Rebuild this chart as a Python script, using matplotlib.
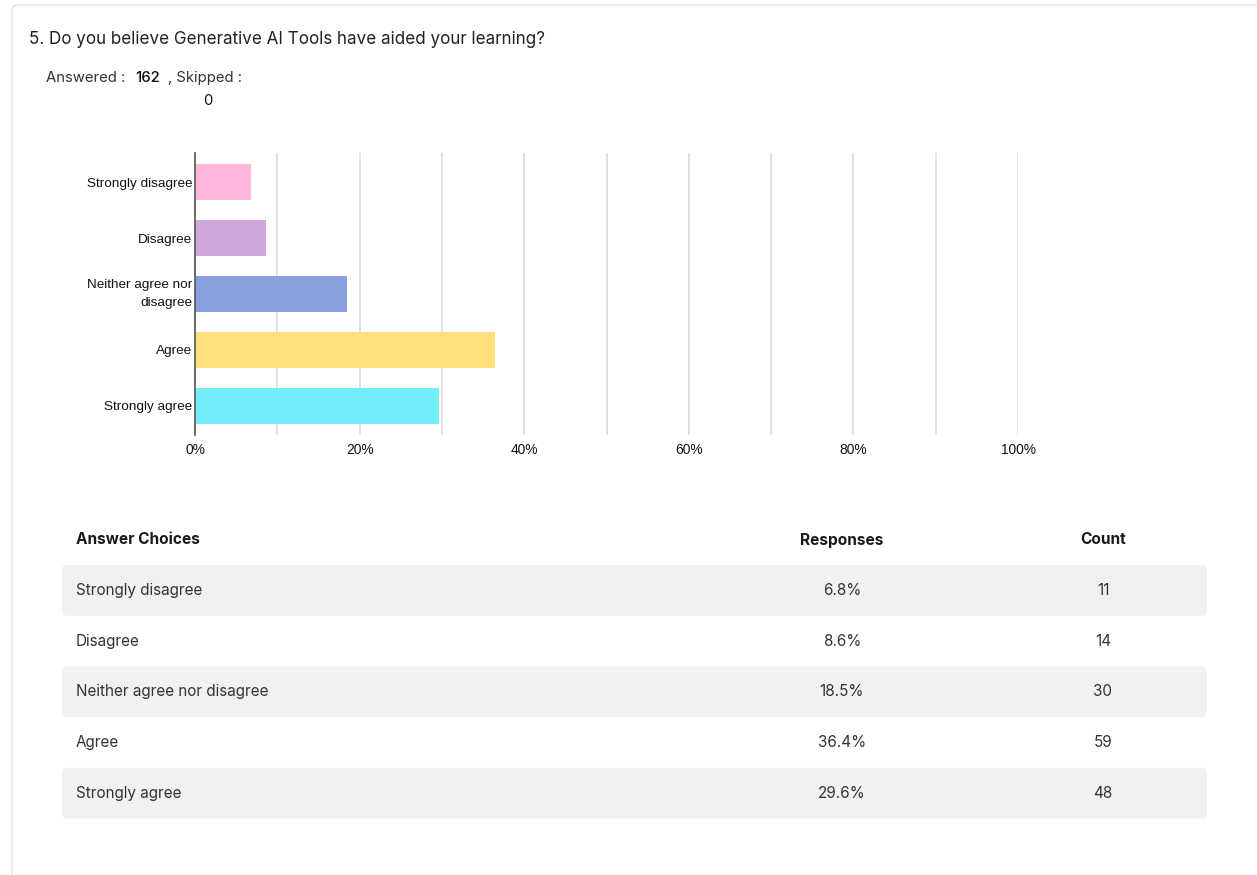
import matplotlib
matplotlib.use("Agg")
import matplotlib.pyplot as plt
from matplotlib.patches import FancyBboxPatch
from matplotlib.ticker import MultipleLocator, FuncFormatter

# ---- data ----
categories = ["Strongly disagree", "Disagree", "Neither agree nor disagree", "Agree", "Strongly agree"]
axis_labels = ["Strongly disagree", "Disagree", "Neither agree nor\ndisagree", "Agree", "Strongly agree"]
percentages = [6.8, 8.6, 18.5, 36.4, 29.6]
counts = [11, 14, 30, 59, 48]
bar_colors = ["#FFB7DB", "#CFA9DE", "#8A9FDE", "#FFE07A", "#74EDFB"]
x_ticks = [0, 20, 40, 60, 80, 100]
answered = 162
skipped = 0
title = "5. Do you believe Generative AI Tools have aided your learning?"

W, H = 1257, 875
fig = plt.figure(figsize=(W / 100, H / 100), dpi=100)
fig.patch.set_facecolor("white")

# overlay in pixel coordinates for page elements
bg = fig.add_axes([0, 0, 1, 1], zorder=0)
bg.set_xlim(0, W)
bg.set_ylim(H, 0)
bg.axis("off")

PAGE_FONT = ["Inter", "DejaVu Sans"]
CHART_FONT = ["Liberation Sans", "DejaVu Sans"]

# card border
card = FancyBboxPatch((12, 5), W + 20, H + 20, boxstyle="round,pad=0,rounding_size=6",
                      facecolor="white", edgecolor="#E2E2E2", linewidth=1.0)
bg.add_patch(card)

bg.text(29, 39, title, fontsize=12.25, color="#222222", va="center", ha="left", family=PAGE_FONT)
bg.text(46, 78, "Answered :  ", fontsize=10.7, color="#333333", va="center", ha="left", family=PAGE_FONT)
bg.text(135, 78, f"{answered}", fontsize=10.7, color="#111111", va="center", ha="left",
        family=PAGE_FONT, fontweight="medium")
bg.text(168, 78, ", Skipped :", fontsize=10.7, color="#333333", va="center", ha="left", family=PAGE_FONT)
bg.text(208, 101, f"{skipped}", fontsize=10.7, color="#111111", va="center", ha="center", family=PAGE_FONT)

# table
row_top0 = 565
row_h = 50.7
for i, (cat, pct, cnt) in enumerate(zip(categories, percentages, counts)):
    top = row_top0 + i * row_h
    if i % 2 == 0:
        bg.add_patch(FancyBboxPatch((62, top), 1145, row_h, boxstyle="round,pad=0,rounding_size=5",
                                    facecolor="#F1F1F1", edgecolor="none"))
    cy = top + row_h / 2
    bg.text(76, cy, cat, fontsize=11, color="#333333", va="center", ha="left", family=PAGE_FONT)
    bg.text(842, cy, f"{pct:.1f}%", fontsize=11, color="#333333", va="center", ha="center", family=PAGE_FONT)
    bg.text(1103, cy, f"{cnt}", fontsize=11, color="#333333", va="center", ha="center", family=PAGE_FONT)

bg.text(76, 540, "Answer Choices", fontsize=11.1, color="#1A1A1A", va="center", ha="left",
        family=PAGE_FONT, fontweight="bold")
bg.text(842, 540, "Responses", fontsize=11.1, color="#1A1A1A", va="center", ha="center",
        family=PAGE_FONT, fontweight="bold")
bg.text(1103, 540, "Count", fontsize=11.1, color="#1A1A1A", va="center", ha="center",
        family=PAGE_FONT, fontweight="bold")

# bar chart
left, right, top, bottom = 195, 1018, 153, 435
ax = fig.add_axes([left / W, 1 - bottom / H, (right - left) / W, (bottom - top) / H], zorder=2)
ax.patch.set_alpha(0)
ypos = list(range(len(categories)))
ax.barh(ypos, percentages, height=0.64, color=bar_colors, zorder=3)
ax.set_xlim(0, 100)
ax.set_ylim(len(categories) - 0.48, -0.52)
ax.xaxis.set_minor_locator(MultipleLocator(10))
ax.set_xticks(x_ticks)
ax.xaxis.set_major_formatter(FuncFormatter(lambda v, p: f"{int(v)}%"))
ax.grid(axis="x", which="both", color="#DCDCDC", linewidth=1.2, zorder=0)
ax.set_yticks(ypos)
ax.set_yticklabels(axis_labels, fontsize=9.7, color="#111111", family=CHART_FONT, linespacing=1.65)
for lbl in ax.get_yticklabels():
    if "\n" in lbl.get_text():
        lbl.set_verticalalignment("center")
for lbl in ax.get_xticklabels():
    lbl.set_family(CHART_FONT)
ax.tick_params(axis="x", labelsize=9.9, labelcolor="#111111", length=0, pad=6, which="both")
ax.tick_params(axis="y", length=0, pad=2)
for s in ["top", "right", "bottom"]:
    ax.spines[s].set_visible(False)
ax.spines["left"].set_color("#555555")
ax.spines["left"].set_linewidth(1.2)
ax.spines["left"].set_zorder(4)

fig.savefig("out.png", dpi=100, facecolor="white")
